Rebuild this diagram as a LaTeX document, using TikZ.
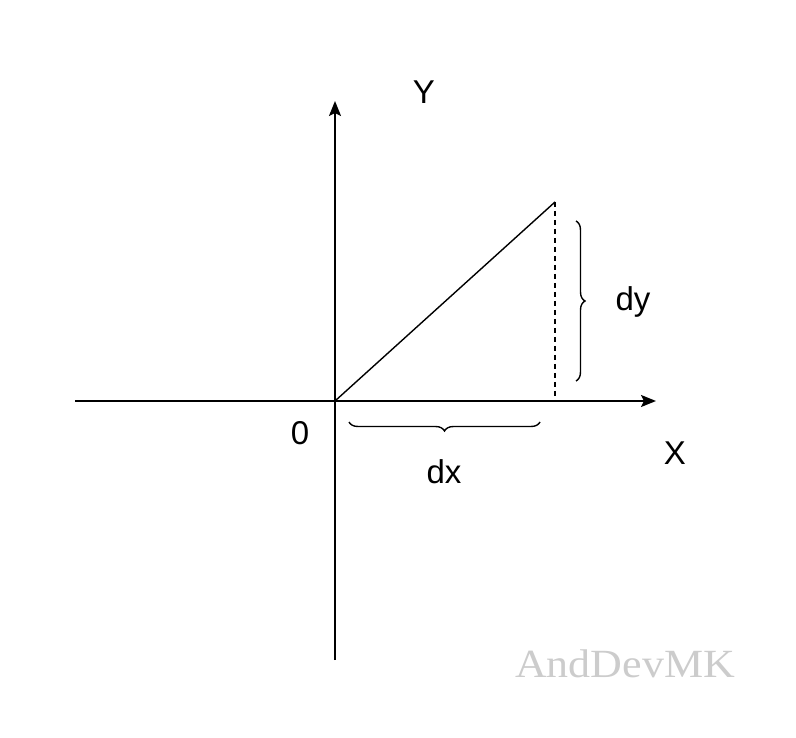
\documentclass[tikz,border=0pt]{standalone}
\usepackage{fontspec}
\setmainfont{Liberation Sans}
\newfontfamily\wmfont{Liberation Serif}
\usetikzlibrary{arrows.meta,decorations.pathreplacing}
\begin{document}
\begin{tikzpicture}[x=1pt,y=-1pt,
  axis/.style={line width=1.8pt,-{Stealth[length=15pt,width=12pt,inset=3pt]}},
  lbl/.style={font=\fontsize{33}{38}\selectfont,inner sep=0pt},
  bracestyle/.style={line width=1.4pt,decorate,decoration={brace,amplitude=9pt}}]
\useasboundingbox (0,0) rectangle (796,738);
\fill[white] (0,0) rectangle (796,738);
\coordinate (O) at (335,401);
\coordinate (xs) at (75,401);
\coordinate (xe) at (656,401);
\coordinate (ys) at (335,660);
\coordinate (ye) at (335,101);
\coordinate (P) at (555,202);
\coordinate (Q) at (555,401);
\coordinate (dyt) at (576,221);
\coordinate (dyb) at (576,381);
\coordinate (dxl) at (349,422);
\coordinate (dxr) at (540,422);
\draw[axis] (xs) -- (xe);
\draw[axis] (ys) -- (ye);
\draw[line width=1.4pt] (O) -- (P);
\draw[line width=1.4pt,dash pattern=on 5pt off 4pt] (P) -- (Q);
\draw[bracestyle] (dyt) -- (dyb);
\draw[bracestyle] (dxr) -- (dxl);
\node[lbl] (ylbl) at (424,92) {Y};
\node[lbl] (xlbl) at (675,453) {X};
\node[lbl] (zero) at (300,433) {0};
\node[lbl] (dx) at (444,472) {dx};
\node[lbl] (dy) at (633,302) {dy};
\node[inner sep=0pt,text=black!20,font=\wmfont\fontsize{40}{44}\selectfont,xscale=1.1] (wm) at (625,664) {AndDevMK};
\end{tikzpicture}
\end{document}
